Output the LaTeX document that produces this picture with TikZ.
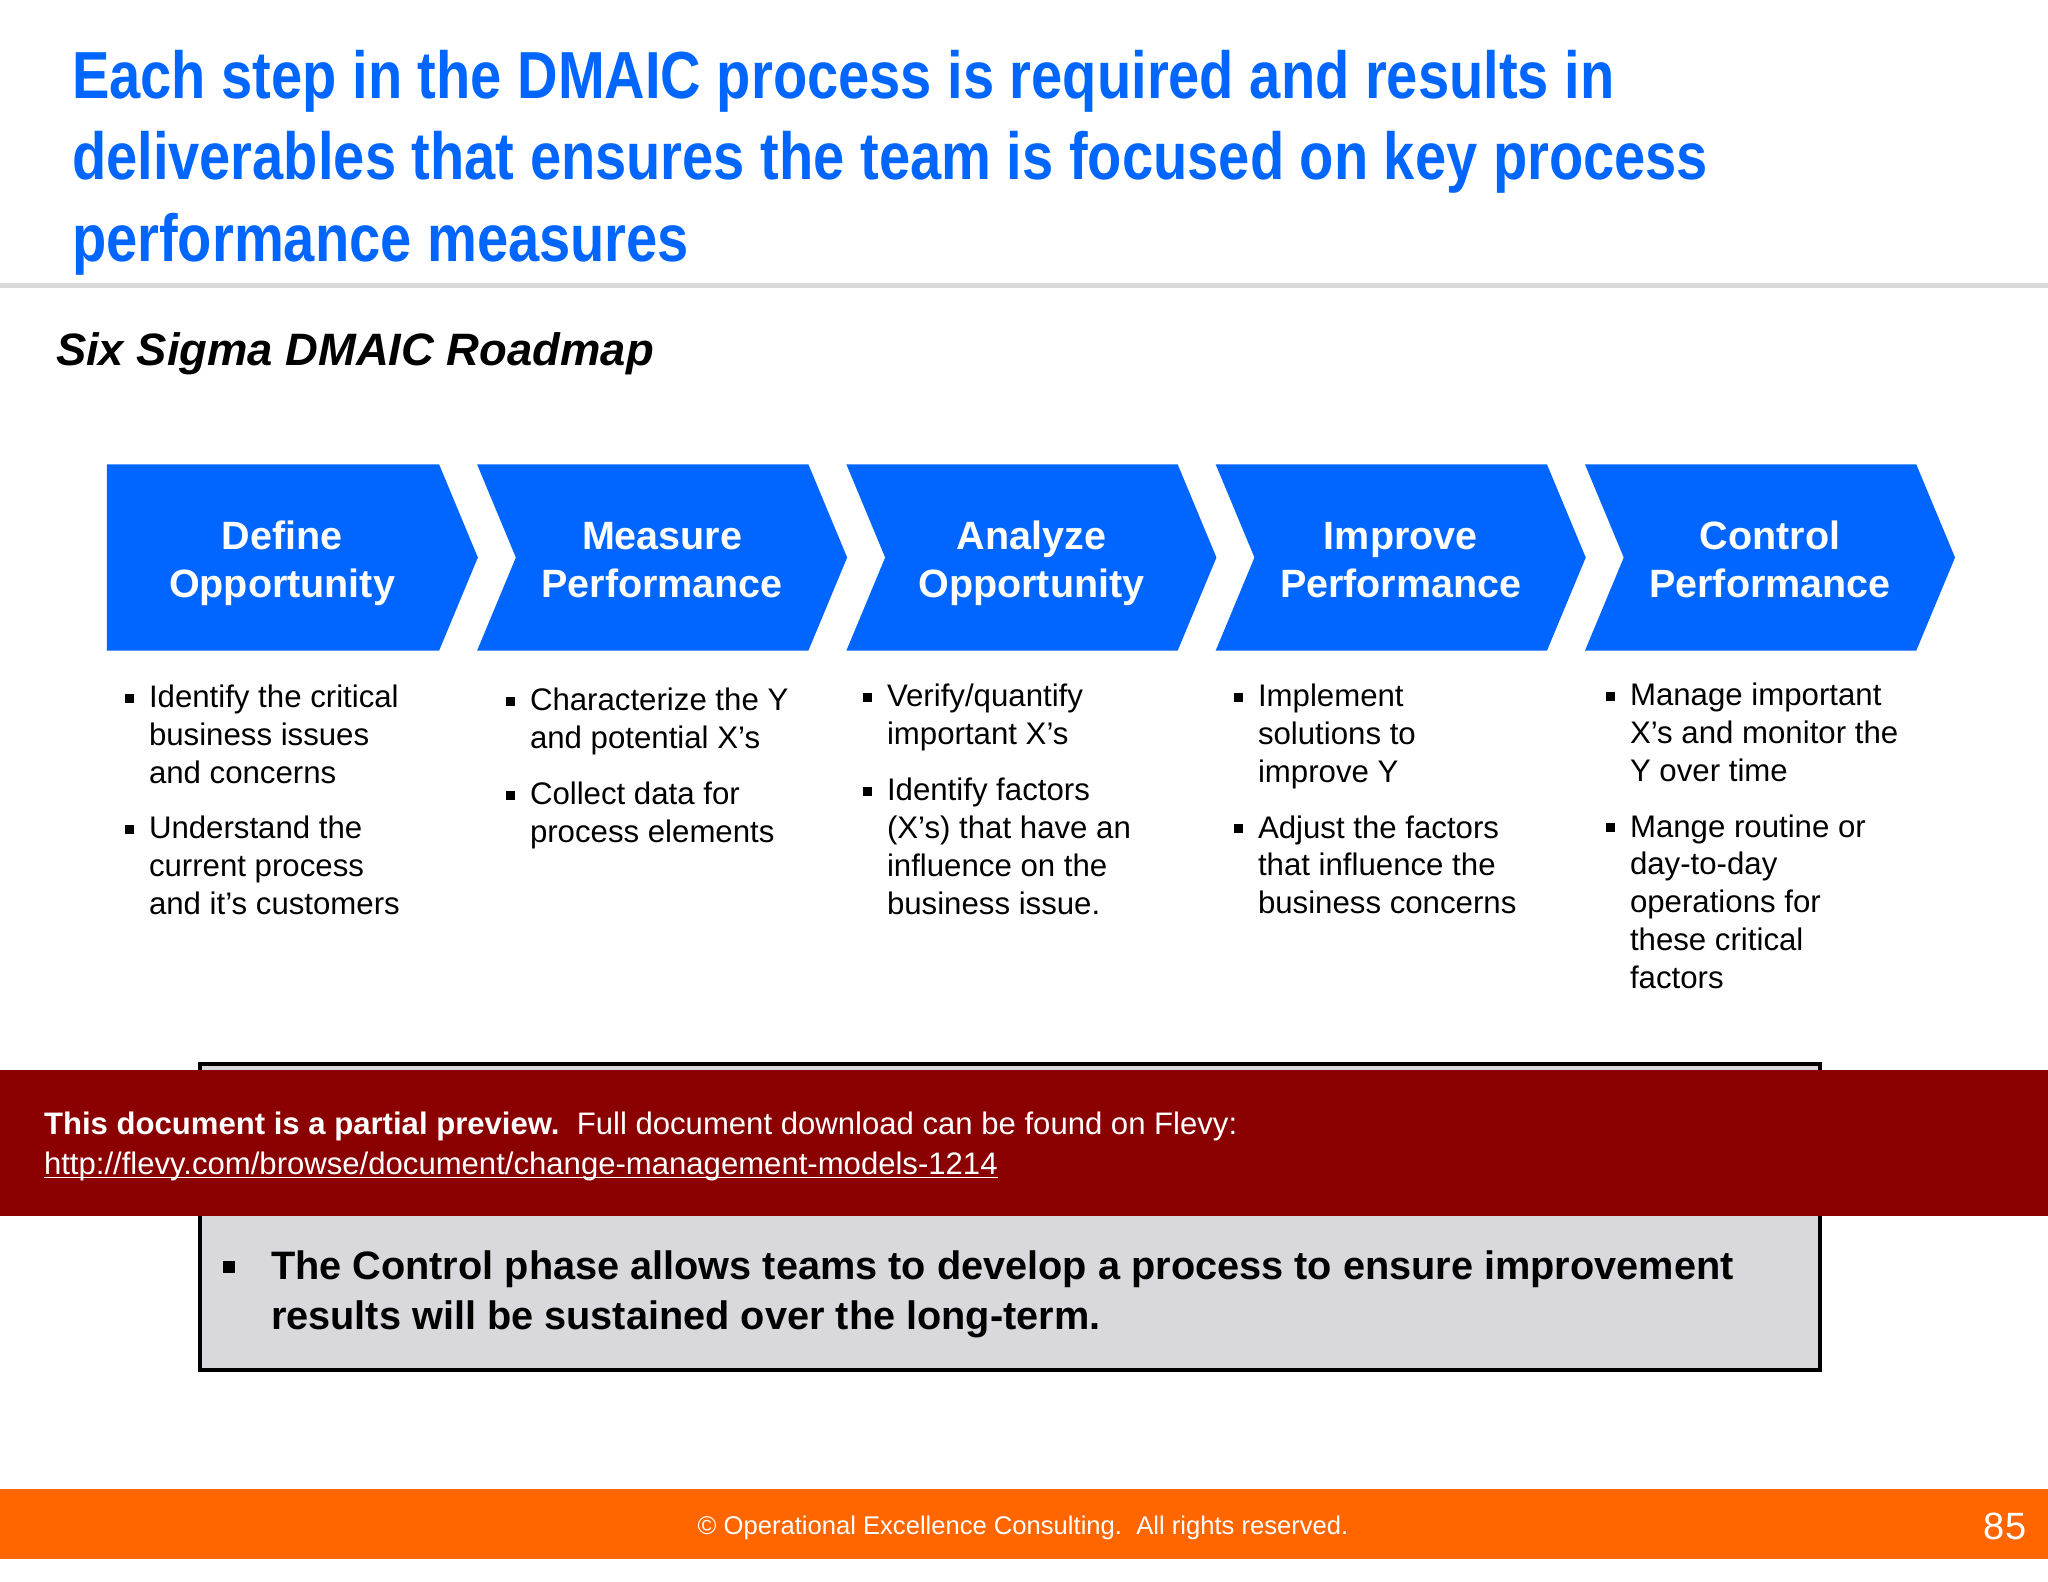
\documentclass[tikz,border=0pt]{standalone}
\usepackage{fontspec}
\setmainfont{Liberation Sans}
\newfontfamily\titlefont[FakeStretch=0.842]{Liberation Sans}
\usetikzlibrary{positioning,shapes.symbols}
\definecolor{flowblue}{HTML}{0066FF}
\definecolor{bandred}{HTML}{8B0000}
\definecolor{footorange}{HTML}{FF6600}
\definecolor{boxgray}{HTML}{D9D8DC}
\definecolor{rulegray}{HTML}{D9D9D9}
\newcommand{\linkline}[1]{\setbox0\hbox{#1}\rlap{\rule[-1.7pt]{\wd0}{0.6pt}}\box0}
\newcommand{\sqbox}[3]{\llap{\rule[#3]{#1}{#1}\hspace{#2}}}
\newcommand{\sqb}{\sqbox{4.5pt}{7.7pt}{2.5pt}}
\newcommand{\twolines}[2]{\rule{0pt}{23pt}#1\\#2\rule[-7.2pt]{0pt}{7.2pt}}
\begin{document}
\begin{tikzpicture}[x=0.5pt, y=-0.5pt, node distance=19pt,
	every node/.style={inner sep=0pt, outer sep=0pt},
	phase/.style={signal, signal to=east, signal from=west, signal pointer angle=134.8, fill=flowblue, text=white,
		minimum width=185pt, minimum height=93pt, align=center, font=\fontsize{19.75}{24}\selectfont\bfseries},
	itemtext/.style={anchor=north west, align=left, font=\fontsize{15.6}{18.9}\selectfont}]
	\useasboundingbox (0,0) rectangle (2048,1582);
	
	\node (title) [anchor=north west, align=left, text=flowblue, font=\fontsize{33.3}{40.8}\selectfont\titlefont\bfseries] at (72,50)
		{Each step in the DMAIC process is required and results in\\deliverables that ensures the team is focused on key process\\performance measures};
	\node (rule) [anchor=north west, fill=rulegray, minimum width=1024pt, minimum height=2.5pt] at (0,283) {};
	\node (roadmap) [anchor=north west, font=\fontsize{22.7}{27}\selectfont\bfseries\itshape] at (56,333) {Six Sigma DMAIC Roadmap};
	
	\node (define) [phase, signal from=nowhere, minimum width=185.5pt] at (273,557.5) {\twolines{\hspace*{9pt}Define}{\hspace*{9pt}Opportunity}};
	\node (measure) [phase, right=of define] {\twolines{Measure}{Performance}};
	\node (analyze) [phase, right=of measure] {\twolines{Analyze}{Opportunity}};
	\node (improve) [phase, right=of analyze] {\twolines{Improve}{Performance}};
	\node (control) [phase, right=of improve] {\twolines{Control}{Performance}};
	
	\node (define1) [itemtext] at (149,685) {\sqb Identify the critical\\business issues\\and concerns};
	\node (define2) [itemtext] at (149,816) {\sqb Understand the\\current process\\and it’s customers};
	\node (measure1) [itemtext] at (530,688) {\sqb Characterize the Y\\and potential X’s};
	\node (measure2) [itemtext] at (530,782) {\sqb Collect data for\\process elements};
	\node (analyze1) [itemtext] at (887,684) {\sqb Verify/quantify\\important X’s};
	\node (analyze2) [itemtext] at (887,778) {\sqb Identify factors\\(X’s) that have an\\influence on the\\business issue.};
	\node (improve1) [itemtext] at (1258,684) {\sqb Implement\\solutions to\\improve Y};
	\node (improve2) [itemtext] at (1258,815.5) {\sqb Adjust the factors\\that influence the\\business concerns};
	\node (control1) [itemtext] at (1630,683) {\sqb Manage important\\X’s and monitor the\\Y over time};
	\node (control2) [itemtext] at (1630,814.5) {\sqb Mange routine or\\day-to-day\\operations for\\these critical\\factors};
	
	\node (box) [anchor=north west, draw=black, line width=2pt, fill=boxgray, minimum width=810pt, minimum height=153pt] at (200,1064) {};
	\node (boxtext) [anchor=north west, align=left, font=\fontsize{19.85}{24.8}\selectfont\bfseries] at (271,1251)
		{\sqbox{6pt}{18pt}{3.6pt}The Control phase allows teams to develop a process to ensure improvement\\results will be sustained over the long-term.};
	
	\node (band) [anchor=north west, fill=bandred, minimum width=1024pt, minimum height=73pt] at (0,1070) {};
	\node (bandtext) [anchor=north west, align=left, text=white, font=\fontsize{15.55}{20.1}\selectfont] at (44,1112)
		{\textbf{This document is a partial preview.}\ \ Full document download can be found on Flevy:\\\linkline{http://flevy.com/browse/document/change-management-models-1214}};
	
	\node (footer) [anchor=north west, fill=footorange, minimum width=1024pt, minimum height=34.75pt] at (0,1489) {};
	\node (copyright) [text=white, font=\fontsize{12.8}{16}\selectfont] at (1023,1528) {© Operational Excellence Consulting.\ \ All rights reserved.};
	\node (pagenum) [text=white, font=\fontsize{19}{22}\selectfont] at (2005,1526) {85};
\end{tikzpicture}
\end{document}
